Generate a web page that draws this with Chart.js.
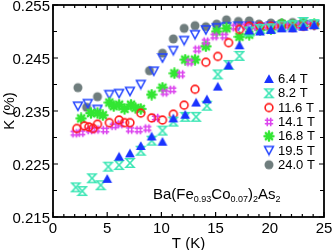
<!DOCTYPE html>
<html>
<head>
<meta charset="utf-8">
<script src="https://cdn.jsdelivr.net/npm/chart.js@4/dist/chart.umd.min.js"></script>
<style>
  html, body { margin: 0; padding: 0; background: #fff; }
  canvas { display: block; }
</style>
</head>
<body>
<canvas id="c" width="332" height="250"></canvas>
<script>
// data: T in K, Knight shift K in %
const t64 = [5.0, 6.1, 7.1, 8.1, 9.1, 10.1, 11.1, 12.2, 13.2, 14.2, 15.2, 16.2, 17.2, 18.1, 19.1, 20.1, 21.1, 22.1, 23.1, 24.1];
const k64 = [0.2222, 0.2264, 0.2270, 0.2284, 0.2302, 0.2292, 0.2336, 0.2343, 0.2366, 0.2372, 0.2396, 0.2436, 0.2474, 0.2502, 0.2500, 0.2503, 0.2506, 0.2506, 0.2509, 0.2512];

const t82 = [2.1, 2.7, 3.6, 4.4, 5.1, 6.1, 7.1, 8.1, 9.1, 10.1, 11.1, 12.2, 13.2, 14.2, 15.2, 16.2, 17.2, 18.1, 19.1, 20.1, 21.1, 22.1, 23.1, 24.1];
const k82 = [0.2206, 0.2199, 0.2223, 0.2210, 0.2245, 0.2248, 0.2252, 0.2275, 0.2294, 0.2313, 0.2330, 0.2339, 0.2339, 0.2360, 0.2419, 0.2437, 0.2454, 0.2500, 0.2505, 0.2506, 0.2510, 0.2512, 0.2518, 0.2514];

const t116 = [2.2, 2.9, 3.3, 3.7, 4.1, 5.2, 6.1, 6.6, 7.1, 8.1, 9.1, 10.1, 11.1, 12.1, 13.1, 14.1, 15.2, 16.2, 17.2, 18.1, 19.1, 20.1, 21.1, 22.1, 23.1, 24.1];
const k116 = [0.2317, 0.2322, 0.2320, 0.2317, 0.2325, 0.2328, 0.2333, 0.2328, 0.2328, 0.2346, 0.2337, 0.2333, 0.2344, 0.2361, 0.2391, 0.2442, 0.2453, 0.2479, 0.2504, 0.2510, 0.2510, 0.2510, 0.2510, 0.2508, 0.2510, 0.2512];

const t141 = [2.0, 2.6, 3.4, 4.0, 4.8, 5.6, 6.2, 7.1, 7.9, 8.7, 9.5, 10.3, 11.0, 11.8, 12.6, 13.3, 14.1, 14.9, 15.8, 16.8, 17.8, 18.8, 19.8, 20.8, 21.8, 22.8, 23.6];
const k141 = [0.2308, 0.2309, 0.2314, 0.2315, 0.2314, 0.2322, 0.2325, 0.2315, 0.2314, 0.2317, 0.2337, 0.2385, 0.2390, 0.2419, 0.2442, 0.2466, 0.2481, 0.2491, 0.2491, 0.2508, 0.2510, 0.2509, 0.2510, 0.2510, 0.2510, 0.2511, 0.2512];

const t168 = [2.6, 3.5, 4.1, 4.6, 5.2, 5.6, 6.1, 6.6, 7.2, 7.6, 8.1, 9.1, 10.1, 11.2, 12.2, 13.1, 14.1, 15.1, 16.0, 17.2, 18.1, 19.1, 20.1, 21.1, 22.1, 23.1, 24.1];
const k168 = [0.2336, 0.2346, 0.2346, 0.2342, 0.2366, 0.2359, 0.2362, 0.2354, 0.2362, 0.2356, 0.2354, 0.2381, 0.2394, 0.2421, 0.2447, 0.2447, 0.2472, 0.2500, 0.2506, 0.2490, 0.2494, 0.2503, 0.2504, 0.2514, 0.2512, 0.2514, 0.2514];

const t195 = [2.3, 3.2, 4.1, 5.2, 6.1, 7.1, 8.1, 9.3, 10.1, 11.1, 12.1, 13.1, 14.1, 15.1, 16.0, 17.1, 18.1, 19.1, 20.1, 21.1, 22.1, 23.1, 24.1];
const k195 = [0.2359, 0.2364, 0.2353, 0.2381, 0.2383, 0.2387, 0.2400, 0.2425, 0.2450, 0.2464, 0.2483, 0.2494, 0.2503, 0.2507, 0.2509, 0.2510, 0.2510, 0.2508, 0.2510, 0.2510, 0.2510, 0.2512, 0.2512];

const t240 = [2.3, 3.1, 4.1, 8.9, 10.1, 11.1, 12.1, 13.1, 14.1, 15.1, 16.0, 17.1, 18.1, 19.0, 20.1, 21.1, 22.1, 23.1, 24.1];
const k240 = [0.2394, 0.2357, 0.2377, 0.2426, 0.2459, 0.2486, 0.2506, 0.2511, 0.2509, 0.2514, 0.2522, 0.2519, 0.2520, 0.2514, 0.2516, 0.2516, 0.2517, 0.2517, 0.2514];

const fieldLabels = ['6.4 T', '8.2 T', '11.6 T', '14.1 T', '16.8 T', '19.5 T', '24.0 T'];
const xTicks = [0, 5, 10, 15, 20, 25];
const yTicks = [0.215, 0.225, 0.235, 0.245, 0.255];

const FONT = '"Liberation Sans", Arial, Helvetica, sans-serif';

function marker(draw) {
  const c = document.createElement('canvas');
  c.width = 12; c.height = 12;
  const g = c.getContext('2d');
  draw(g);
  return c;
}

const mTri = marker(g => {
  g.fillStyle = '#1a33ff';
  g.beginPath(); g.moveTo(6, 1.3); g.lineTo(10.9, 10); g.lineTo(1.1, 10); g.closePath(); g.fill();
});
const mHour = marker(g => {
  g.strokeStyle = '#3fe6b6'; g.lineWidth = 1.6;
  g.beginPath(); g.moveTo(2, 1.8); g.lineTo(10, 1.8); g.lineTo(2, 10.2); g.lineTo(10, 10.2); g.closePath(); g.stroke();
});
const mCirc = marker(g => {
  g.strokeStyle = '#ff1a1a'; g.lineWidth = 1.6;
  g.beginPath(); g.arc(6, 6, 3.9, 0, Math.PI * 2); g.stroke();
});
const mHash = marker(g => {
  g.strokeStyle = '#dc44ee'; g.lineWidth = 1.6;
  g.beginPath();
  g.moveTo(4.3, 1.8); g.lineTo(4.3, 10.2); g.moveTo(7.7, 1.8); g.lineTo(7.7, 10.2);
  g.moveTo(1.8, 4.3); g.lineTo(10.2, 4.3); g.moveTo(1.8, 7.7); g.lineTo(10.2, 7.7);
  g.stroke();
});
const mStar = marker(g => {
  g.strokeStyle = '#33e633'; g.lineWidth = 2.4; g.lineCap = 'round';
  g.beginPath();
  g.moveTo(6, 1.5); g.lineTo(6, 10.5); g.moveTo(1.5, 6); g.lineTo(10.5, 6);
  g.moveTo(2.8, 2.8); g.lineTo(9.2, 9.2); g.moveTo(9.2, 2.8); g.lineTo(2.8, 9.2);
  g.stroke();
});
const mDown = marker(g => {
  g.strokeStyle = '#2244ff'; g.lineWidth = 1.5;
  g.beginPath(); g.moveTo(1.6, 2); g.lineTo(10.4, 2); g.lineTo(6, 10.2); g.closePath(); g.stroke();
});
const mDot = marker(g => {
  g.fillStyle = '#6f7d7d';
  g.beginPath(); g.arc(6, 6, 4.5, 0, Math.PI * 2); g.fill();
});

const series = [[t64, k64, mTri], [t82, k82, mHour], [t116, k116, mCirc], [t141, k141, mHash],
                [t168, k168, mStar], [t195, k195, mDown], [t240, k240, mDot]];

const datasets = series.map(([t, k, m], i) => ({
  label: fieldLabels[i],
  data: t.map((x, j) => ({ x: x, y: k[j] })),
  pointStyle: m,
  showLine: false
}));

// inward ticks on all four sides, frame, legend and compound label
const decor = {
  id: 'decor',
  afterDraw(chart) {
    const { ctx, chartArea: a, scales: { x, y } } = chart;
    ctx.save();
    ctx.strokeStyle = '#000';
    ctx.lineWidth = 1.2;
    ctx.beginPath();
    for (let v = 0; v <= 25; v++) {
      const px = x.getPixelForValue(v);
      const len = v % 5 === 0 ? 5 : 3;
      ctx.moveTo(px, a.bottom); ctx.lineTo(px, a.bottom - len);
      ctx.moveTo(px, a.top); ctx.lineTo(px, a.top + len);
    }
    for (let i = 0; i <= 8; i++) {
      const v = 0.215 + i * 0.005;
      const py = y.getPixelForValue(v);
      const len = i % 2 === 0 ? 5 : 4;
      ctx.moveTo(a.left, py); ctx.lineTo(a.left + len, py);
      ctx.moveTo(a.right, py); ctx.lineTo(a.right - len, py);
    }
    ctx.stroke();
    ctx.lineWidth = 1.8;
    ctx.strokeRect(a.left, a.top, a.right - a.left, a.bottom - a.top);

    // legend
    ctx.fillStyle = '#000';
    ctx.font = '13px ' + FONT;
    ctx.textBaseline = 'middle';
    ctx.textAlign = 'left';
    chart.data.datasets.forEach((ds, i) => {
      const ly = 79 + i * 14.3;
      ctx.drawImage(ds.pointStyle, 269 - 6, ly - 6);
      ctx.fillText(ds.label, 278, ly + 0.5);
    });

    // Ba(Fe0.93Co0.07)2As2
    const parts = [['Ba(Fe', 0], ['0.93', 1], ['Co', 0], ['0.07', 1], [')', 0], ['2', 1], ['As', 0], ['2', 1]];
    let cx = 153;
    const base = 199;
    ctx.textBaseline = 'alphabetic';
    parts.forEach(([s, sub]) => {
      ctx.font = (sub ? '9px ' : '15px ') + FONT;
      ctx.fillText(s, cx, sub ? base + 3 : base);
      cx += ctx.measureText(s).width;
    });
    ctx.restore();
  }
};

new Chart(document.getElementById('c'), {
  type: 'scatter',
  data: { datasets: datasets },
  options: {
    responsive: false,
    animation: false,
    devicePixelRatio: 1,
    layout: { padding: { top: 5, right: 8, left: 0, bottom: 0 } },
    plugins: { legend: { display: false }, tooltip: { enabled: false } },
    scales: {
      x: {
        type: 'linear', min: 0, max: 25,
        afterBuildTicks: s => { s.ticks = xTicks.map(v => ({ value: v })); },
        afterFit: s => { s.height = 33; s.paddingLeft = 0; s.paddingRight = 0; },
        grid: { display: false, drawTicks: false },
        border: { display: false },
        ticks: { color: '#000', font: { family: FONT, size: 15 }, padding: 3, maxRotation: 0 },
        title: { display: true, text: 'T (K)', color: '#000', font: { family: FONT, size: 15, lineHeight: 1 }, padding: { top: 0, bottom: -1 } }
      },
      y: {
        type: 'linear', min: 0.215, max: 0.255,
        afterBuildTicks: s => { s.ticks = yTicks.map(v => ({ value: v })); },
        afterFit: s => { s.width = 53; s.paddingTop = 0; s.paddingBottom = 0; },
        grid: { display: false, drawTicks: false },
        border: { display: false },
        ticks: { color: '#000', font: { family: FONT, size: 15 }, padding: 3, labelOffset: 1.5, callback: v => v.toFixed(3) },
        title: { display: true, text: 'K (%)', color: '#000', font: { family: FONT, size: 15, lineHeight: 1 }, padding: 2 }
      }
    }
  },
  plugins: [decor]
});
</script>
</body>
</html>
